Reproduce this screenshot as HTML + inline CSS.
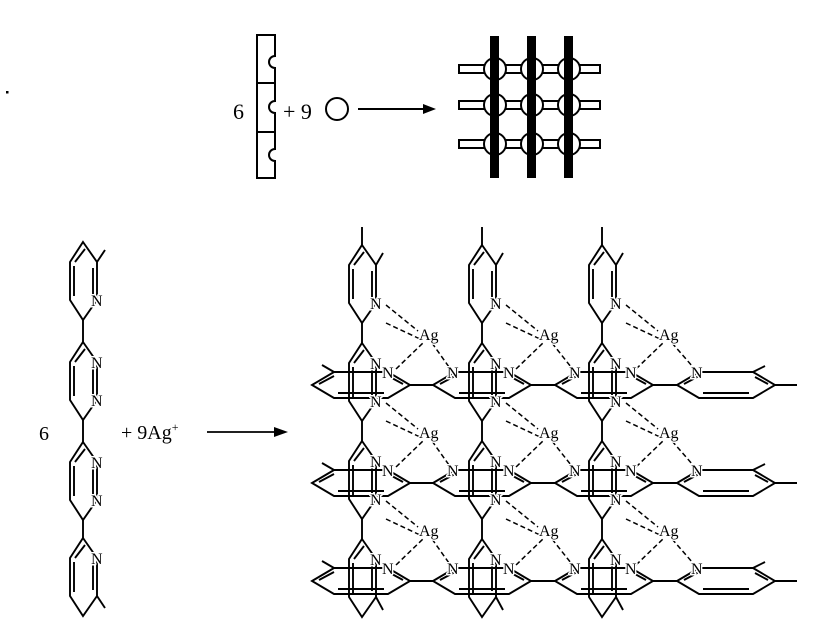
<!DOCTYPE html>
<html><head><meta charset="utf-8"><style>
html,body{margin:0;padding:0;background:#fff;}
svg{display:block;}
text{font-family:"Liberation Serif",serif;fill:#000;}
.lbl{font-size:16px;paint-order:stroke;stroke:#fff;stroke-width:3px;stroke-linejoin:round;}
</style></head><body>
<svg id="s" width="829" height="636" viewBox="0 0 829 636" xmlns="http://www.w3.org/2000/svg">
<rect x="6" y="91" width="2.5" height="2.5" fill="#000"/>
<g fill="none" stroke="#000" stroke-width="2">
<path d="M257,35 H275 V56 A6,6 0 0 0 275,68 V101 A6,6 0 0 0 275,113 V149 A6,6 0 0 0 275,161 V178 H257 Z"/>
<line x1="257" y1="83" x2="275" y2="83"/><line x1="257" y1="132" x2="275" y2="132"/>
<circle cx="337" cy="109" r="11"/>
<line x1="358" y1="109" x2="425" y2="109"/>
</g>
<polygon points="423,104 436,109 423,114" fill="#000"/>
<text x="233" y="119" font-size="22">6</text>
<text x="283" y="119" font-size="22">+ 9</text>
<g fill="#fff" stroke="#000" stroke-width="2">
<rect x="459" y="65" width="141" height="8"/><rect x="459" y="101" width="141" height="8"/><rect x="459" y="140" width="141" height="8"/>
<circle cx="495" cy="69" r="11"/><circle cx="532" cy="69" r="11"/><circle cx="569" cy="69" r="11"/>
<circle cx="495" cy="105" r="11"/><circle cx="532" cy="105" r="11"/><circle cx="569" cy="105" r="11"/>
<circle cx="495" cy="144" r="11"/><circle cx="532" cy="144" r="11"/><circle cx="569" cy="144" r="11"/>
</g>
<rect x="490" y="36" width="9" height="142" fill="#000"/>
<rect x="527" y="36" width="9" height="142" fill="#000"/>
<rect x="564" y="36" width="9" height="142" fill="#000"/>
<text x="39" y="440" font-size="20">6</text>
<text x="121" y="439" font-size="20">+ 9Ag<tspan font-size="12" dy="-8">+</tspan></text>
<line x1="207" y1="432" x2="276" y2="432" stroke="#000" stroke-width="1.8"/>
<polygon points="274,427 288,432 274,437" fill="#000"/>
<g id="mol" fill="none" stroke="#000" stroke-width="1.9"></g>
<g id="dash" fill="none" stroke="#000" stroke-width="1.5" stroke-dasharray="5,3"></g>
<g id="txt"></g>
</svg>
<script>
var NS="http://www.w3.org/2000/svg";
var mol=document.getElementById('mol'),dash=document.getElementById('dash'),txt=document.getElementById('txt');
function L(x1,y1,x2,y2,g){var e=document.createElementNS(NS,'line');e.setAttribute('x1',x1);e.setAttribute('y1',y1);e.setAttribute('x2',x2);e.setAttribute('y2',y2);(g||mol).appendChild(e);}
function P(pts){var e=document.createElementNS(NS,'polygon');e.setAttribute('points',pts.map(function(p){return p.join(',')}).join(' '));mol.appendChild(e);}
function T(x,y,s){var e=document.createElementNS(NS,'text');e.setAttribute('x',x);e.setAttribute('y',y);e.setAttribute('class','lbl');e.textContent=s;txt.appendChild(e);}
function vring(cx,t,nUR,nLR){
  P([[cx,t],[cx+14,t+20],[cx+14,t+58],[cx,t+78],[cx-13,t+58],[cx-13,t+20]]);
  L(cx-9,t+24,cx-9,t+54);L(cx+2,t+7,cx-8,t+20);L(cx+10,t+26,cx+10,t+52);
  if(nUR)T(cx+8,t+26,'N');
  if(nLR)T(cx+8,t+64,'N');
}
function hring(x0,c,nUL,nUR){
  P([[x0,c],[x0+22,c-13],[x0+76,c-13],[x0+98,c],[x0+76,c+13],[x0+22,c+13]]);
  L(x0+26,c+8,x0+72,c+8);L(x0+7,c-1,x0+22,c-9);L(x0+78,c-8,x0+91,c-1);
  if(nUL)T(x0+14,c-7,'N');
  if(nUR)T(x0+70,c-7,'N');
}
var tops=[242,342,442,538];
vring(83,242,0,1);vring(83,342,1,1);vring(83,442,1,1);vring(83,538,1,0);
for(var i=0;i<3;i++)L(83,tops[i]+78,83,tops[i+1]);
L(97,262,105,250);L(97,596,105,608);
var rows=[385,483,581],xs=[312,433,555,677],cols=[362,482,602];
rows.forEach(function(c){
  hring(312,c,0,1);hring(433,c,1,1);hring(555,c,1,1);hring(677,c,1,0);
  for(var i=0;i<3;i++)L(xs[i]+98,c,xs[i+1],c);
  L(334,c-13,322,c-20);L(753,c-13,765,c-19);L(775,c,797,c);
});
var vt=[245,343,441,539];
cols.forEach(function(cx){
  vring(cx,245,0,1);vring(cx,343,1,1);vring(cx,441,1,1);vring(cx,539,1,0);
  for(var i=0;i<3;i++)L(cx,vt[i]+78,cx,vt[i+1]);
  L(cx,245,cx,227);L(cx+14,265,cx+21,253);L(cx+14,597,cx+21,610);
});
cols.forEach(function(cx,ci){
  rows.forEach(function(c,ri){
    var ax=cx+66,ay=c-50;
    T(ax-9,ay+5,'Ag');
    var ny=vt[ri]+58;
    L(cx+24,ny+2,ax-10,ay-4,dash);
    L(cx+24,ny+20,ax-8,ay+4,dash);
    L(cx+34,c-16,ax-4,ay+7,dash);
    L(ax+4,ay+8,xs[ci+1]+16,c-18,dash);
  });
});
</script>
</body></html>
